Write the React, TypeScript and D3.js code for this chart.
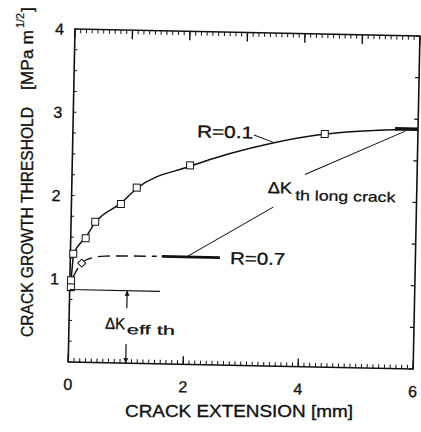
import React from 'react';
import * as d3 from 'd3';

// ---- data ----
const xTickLabels = [0, 2, 4, 6];
const xTopMajor = [0, 1, 2, 3, 4, 5, 6];
const yTickLabels = [1, 2, 3, 4];

// R=0.1 measured points (squares)
const r01SquareX = [0.02, 0.02, 0.05, 0.26, 0.42, 0.86, 1.13, 2.05, 4.38];
const r01SquareY = [0.9, 0.98, 1.3, 1.49, 1.69, 1.91, 2.11, 2.39, 2.8];
// R=0.1 fitted curve
const r01CurveX = [0.02, 0.06, 0.26, 0.42, 0.86, 1.13, 2.05, 3.48, 4.38, 5.6, 6.0];
const r01CurveY = [0.96, 1.3, 1.5, 1.68, 1.92, 2.1, 2.38, 2.68, 2.8, 2.87, 2.88];
// long crack thick segment R=0.1
const r01LongX = [5.6, 6.0];
const r01LongY = [2.88, 2.88];

// R=0.7 points
const r07MarkX = [0.2];
const r07MarkY = [1.19];
const r07DashX = [0.04, 0.2, 0.4, 0.6, 1.5];
const r07DashY = [1.0, 1.19, 1.26, 1.28, 1.29];
const r07LongX = [1.59, 2.6];
const r07LongY = [1.29, 1.29];

// leader lines for ΔK_th long crack
const leader1X = [2.02, 3.51];
const leader1Y = [1.29, 1.91];
const leader2X = [4.05, 5.78];
const leader2Y = [2.31, 2.855];
// leader for R=0.1 label
const leaderR01X = [3.15, 3.48];
const leaderR01Y = [2.77, 2.69];

// ΔK_eff th
const effLineX = [0, 1.57];
const effLineY = [0.87, 0.87];
const effArrowX = 1.0;
const effArrowUp = [0.66, 0.87];
const effArrowDown = [0.23, 0.0];

const FONT = 'Liberation Sans, Arial, Helvetica, sans-serif';
const INK = '#111';

export default function App() {
  const W = 421, H = 432;
  const x0 = 75, y0 = 29, pw = 345, ph = 333;
  const x = d3.scaleLinear().domain([0, 6]).range([x0, x0 + pw]);
  const y = d3.scaleLinear().domain([0, 4]).range([y0 + ph, y0]);

  const line = d3.line<[number, number]>().x(d => x(d[0])).y(d => y(d[1]));
  const smooth = d3.line<[number, number]>().x(d => x(d[0])).y(d => y(d[1])).curve(d3.curveMonotoneX);
  const zip = (a: number[], b: number[]) => a.map((v, i) => [v, b[i]] as [number, number]);

  const minorX = d3.range(0, 60.001, 1).map(v => v / 10);
  const leftMinor = d3.range(0, 16.001, 1).map(v => v / 4);
  const rightMinor = d3.range(0, 8.001, 1).map(v => v / 2);

  const bottom = y(0), top = y(4), left = x(0), right = x(6);
  const ts = { fill: INK, stroke: INK, strokeWidth: 0.35 } as const;

  return (
    <svg width={W} height={H} style={{ position: 'absolute', left: 0, top: 0, background: '#fff' }}
      fontFamily={FONT}>
      <defs>
        <marker id="ah" viewBox="0 0 10 10" refX="10" refY="5" markerWidth="5" markerHeight="7"
          markerUnits="userSpaceOnUse" orient="auto">
          <path d="M0,0 L10,5 L0,10 z" fill={INK} />
        </marker>
      </defs>
      <rect width={W} height={H} fill="#fff" />
      {/* Y title */}
      <g transform={`translate(33,337) rotate(-90)`} fontSize={17} {...ts}>
        <text x={0} y={0} textLength={230} lengthAdjust="spacingAndGlyphs">CRACK GROWTH THRESHOLD</text>
        <text x={247} y={0} textLength={60} lengthAdjust="spacingAndGlyphs">[MPa m</text>
        <text x={309} y={-9} fontSize={11} strokeWidth={0.2} textLength={15} lengthAdjust="spacingAndGlyphs">1/2</text>
        <text x={325} y={0}>]</text>
      </g>
      {/* X title */}
      <text x={125} y={417} fontSize={17} {...ts} textLength={228} lengthAdjust="spacingAndGlyphs">
        CRACK EXTENSION [mm]
      </text>

      <g transform="rotate(1.17 75 29)">
        {/* frame */}
        <rect x={left} y={top} width={right - left} height={bottom - top} fill="none" stroke={INK} strokeWidth={1.6} />
        {/* top & bottom minor ticks */}
        {minorX.map((v, i) => (
          <g key={'mx' + i}>
            <line x1={x(v)} x2={x(v)} y1={top} y2={top + 4} stroke={INK} strokeWidth={1} />
            <line x1={x(v)} x2={x(v)} y1={bottom} y2={bottom - 4} stroke={INK} strokeWidth={1} />
          </g>
        ))}
        {xTopMajor.map(v => (
          <line key={'tM' + v} x1={x(v)} x2={x(v)} y1={top} y2={top + 9} stroke={INK} strokeWidth={1.4} />
        ))}
        {xTickLabels.map(v => (
          <line key={'bM' + v} x1={x(v)} x2={x(v)} y1={bottom} y2={bottom - 8} stroke={INK} strokeWidth={1.4} />
        ))}
        {leftMinor.map((v, i) => (
          <line key={'lm' + i} x1={left} x2={left + 3} y1={y(v)} y2={y(v)} stroke={INK} strokeWidth={1} />
        ))}
        {rightMinor.map((v, i) => (
          <line key={'rm' + i} x1={right} x2={right - 4} y1={y(v)} y2={y(v)} stroke={INK} strokeWidth={1.2} />
        ))}
        {/* tick labels */}
        {xTickLabels.map(v => (
          <text key={'xl' + v} x={x(v)} y={bottom + 28} fontSize={16} textAnchor="middle" {...ts}>{v}</text>
        ))}
        {yTickLabels.map(v => (
          <text key={'yl' + v} x={left - 11} y={y(v) + 6} fontSize={16} textAnchor="end" {...ts}>{v}</text>
        ))}

        {/* R=0.1 curve */}
        <path d={smooth(zip(r01CurveX, r01CurveY)) || ''} fill="none" stroke={INK} strokeWidth={1.5} />
        <path d={line(zip(r01LongX, r01LongY)) || ''} fill="none" stroke={INK} strokeWidth={3.5} />
        {/* R=0.7 */}
        <path d={smooth(zip(r07DashX, r07DashY)) || ''} fill="none" stroke={INK} strokeWidth={1.4} strokeDasharray="12 6" />
        <path d={line(zip(r07LongX, r07LongY)) || ''} fill="none" stroke={INK} strokeWidth={2.8} />
        {r07MarkX.map((v, i) => (
          <path key={'d' + i} d={`M${x(v)},${y(r07MarkY[i]) - 4} L${x(v) + 4},${y(r07MarkY[i])} L${x(v)},${y(r07MarkY[i]) + 4} L${x(v) - 4},${y(r07MarkY[i])} Z`}
            fill="#fff" stroke={INK} strokeWidth={1} />
        ))}
        {/* squares */}
        {r01SquareX.map((v, i) => (
          <rect key={'s' + i} x={x(v) - 3.5} y={y(r01SquareY[i]) - 3.5} width={7} height={7}
            fill="#fff" stroke={INK} strokeWidth={1} />
        ))}

        {/* leaders */}
        <path d={line(zip(leader1X, leader1Y)) || ''} stroke={INK} strokeWidth={1} fill="none" />
        <path d={line(zip(leader2X, leader2Y)) || ''} stroke={INK} strokeWidth={1} fill="none" />
        <path d={line(zip(leaderR01X, leaderR01Y)) || ''} stroke={INK} strokeWidth={1} fill="none" />

        {/* ΔK eff th */}
        <path d={line(zip(effLineX, effLineY)) || ''} stroke={INK} strokeWidth={1.2} fill="none" />
        <line x1={x(effArrowX)} x2={x(effArrowX)} y1={y(effArrowUp[0])} y2={y(effArrowUp[1])} stroke={INK} strokeWidth={1.2} markerEnd="url(#ah)" />
        <line x1={x(effArrowX)} x2={x(effArrowX)} y1={y(effArrowDown[0])} y2={y(effArrowDown[1])} stroke={INK} strokeWidth={1.2} markerEnd="url(#ah)" />

        {/* labels */}
        <text x={x(2.16)} y={y(2.73)} fontSize={17} {...ts} textLength={56} lengthAdjust="spacingAndGlyphs">R=0.1</text>
        <text x={x(2.78)} y={y(1.216)} fontSize={17} {...ts} textLength={55} lengthAdjust="spacingAndGlyphs">R=0.7</text>
        <text x={x(3.41)} y={y(2.077)} fontSize={16} {...ts} textLength={24} lengthAdjust="spacingAndGlyphs">ΔK</text>
        <text x={x(3.89)} y={y(2.0)} fontSize={14} {...ts} strokeWidth={0.25} textLength={100} lengthAdjust="spacingAndGlyphs">th long crack</text>
        <text x={x(0.63)} y={y(0.406)} fontSize={16} {...ts} textLength={20} lengthAdjust="spacingAndGlyphs">ΔK</text>
        <text x={x(1.01)} y={y(0.35)} fontSize={13} {...ts} strokeWidth={0.25} textLength={48} lengthAdjust="spacingAndGlyphs">eff th</text>
      </g>
    </svg>
  );
}
